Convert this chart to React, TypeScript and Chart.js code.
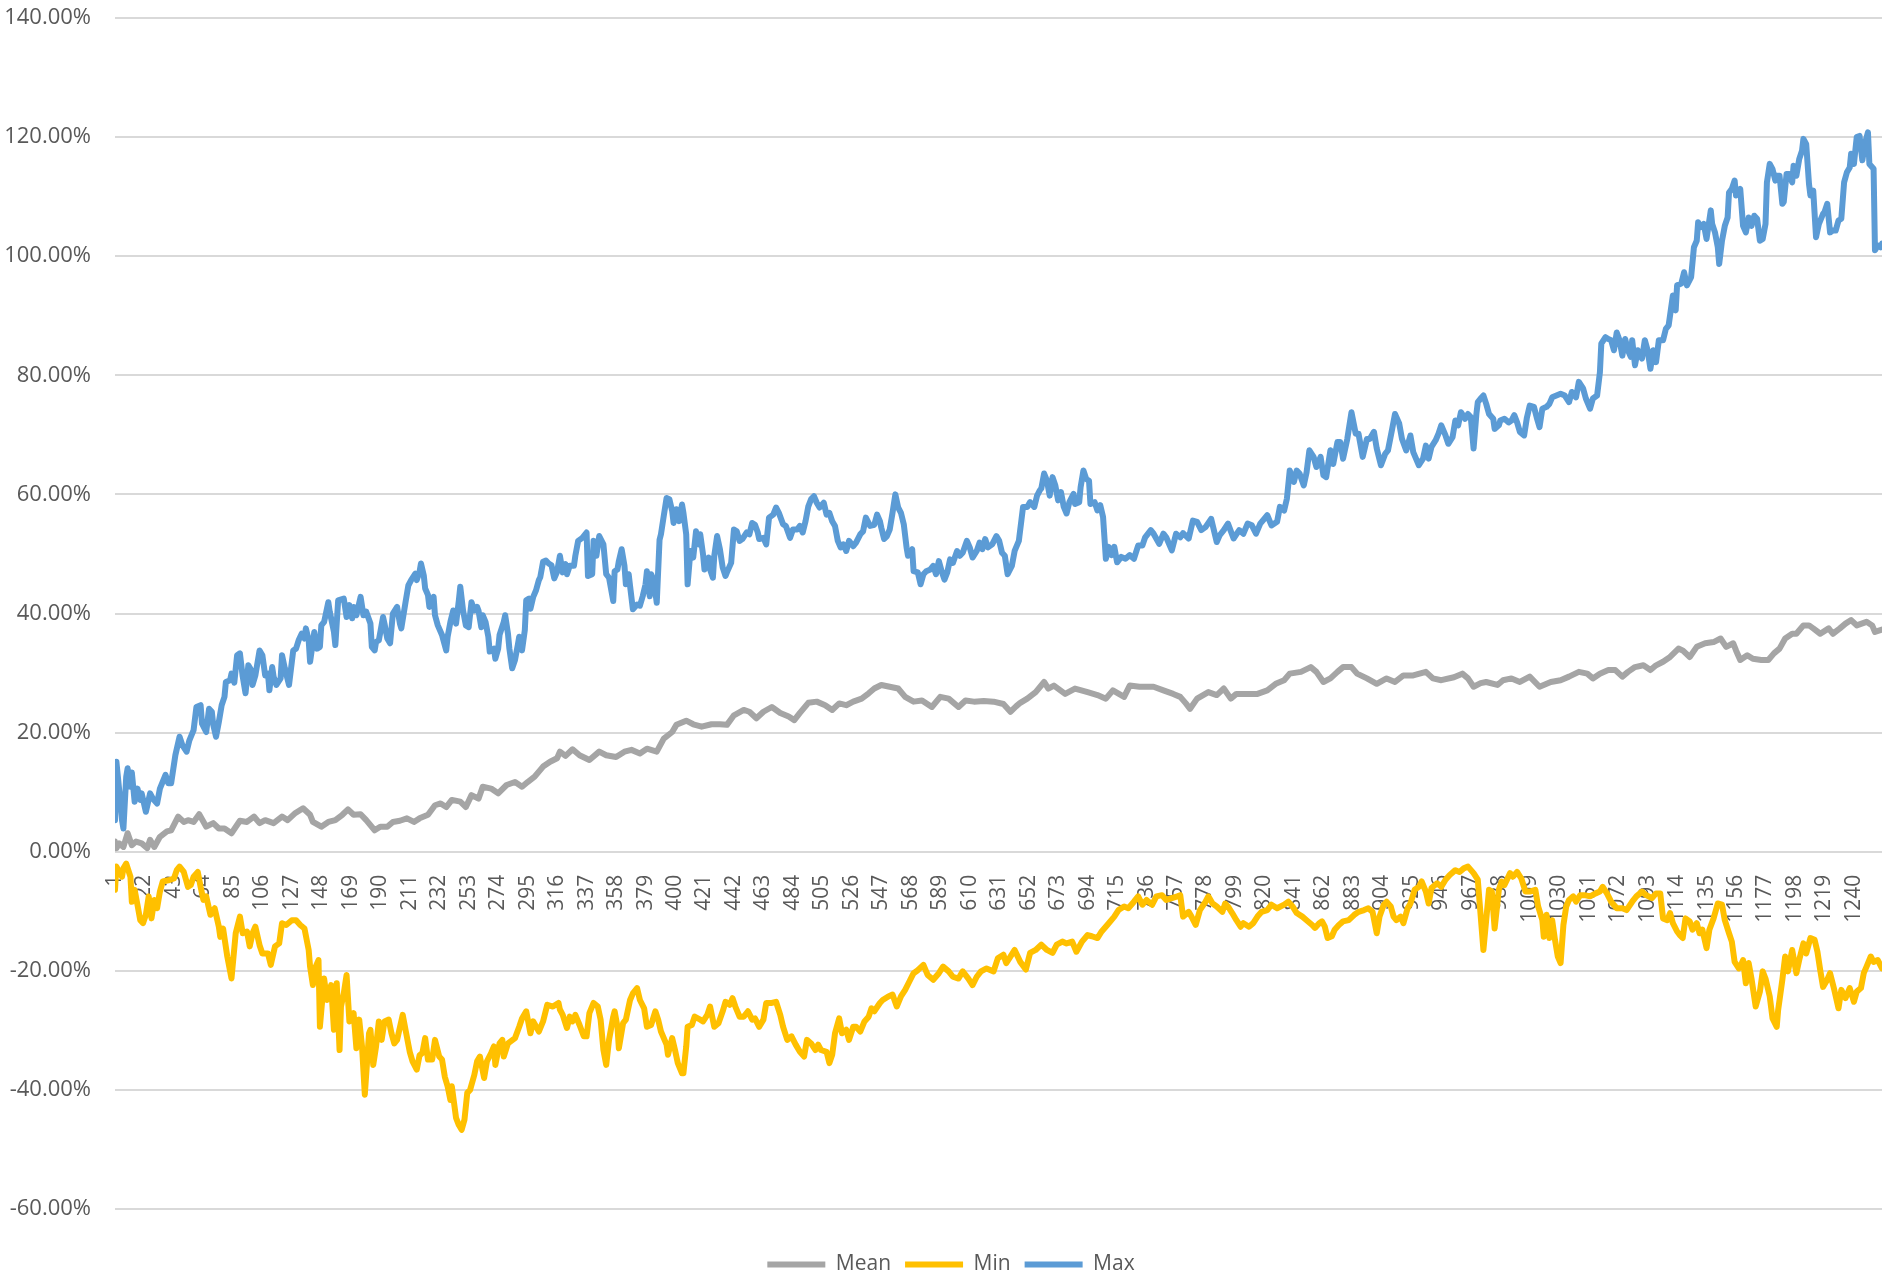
import React, { useEffect, useRef } from "react";
import { Chart, registerables } from "chart.js";

Chart.register(...registerables);

const seriesNames = ["Mean", "Min", "Max"];
const seriesColors = ["#A5A5A5", "#FFC000", "#5B9BD5"];

const xTickLabels = [1,22,43,64,85,106,127,148,169,190,211,232,253,274,295,316,337,358,379,400,421,442,463,484,505,526,547,568,589,610,631,652,673,694,715,736,757,778,799,820,841,862,883,904,925,946,967,988,1009,1030,1051,1072,1093,1114,1135,1156,1177,1198,1219,1240];
const yTickValues = [-60,-40,-20,0,20,40,60,80,100,120,140];

// [observation index, value in %]
const meanPoints: [number, number][] = [
[1,1.7],[2,0.6],[4,1.4],[7,0.8],[10,3.1],[13,1.1],[16,1.7],[20,1.4],[24,0.6],[26,2.0],[29,0.8],[33,2.5],[38,3.4],[41,3.6],[46,5.9],[50,5.0],[53,5.3],[57,5.0],[61,6.3],[66,4.2],[71,4.8],[75,3.9],[79,3.9],[84,3.1],[90,5.2],[95,5.0],[100,5.9],[104,4.8],[108,5.3],[114,4.8],[120,5.9],[124,5.3],[129,6.4],[135,7.3],[140,6.2],[142,5.0],[148,4.2],[153,5.0],[158,5.3],[163,6.2],[167,7.1],[171,6.2],[176,6.3],[180,5.3],[186,3.6],[190,4.2],[195,4.2],[199,5.0],[204,5.2],[209,5.6],[214,5.0],[218,5.6],[224,6.2],[229,7.8],[233,8.1],[237,7.5],[241,8.7],[247,8.4],[251,7.5],[255,9.5],[260,8.9],[263,10.9],[269,10.6],[274,9.8],[280,11.2],[286,11.7],[291,10.9],[295,11.7],[300,12.6],[306,14.3],[311,15.1],[316,15.7],[318,16.8],
[322,16.1],[327,17.2],[332,16.2],[339,15.4],[346,16.8],[351,16.2],[358,15.9],[364,16.8],[369,17.1],[375,16.5],[380,17.3],[387,16.8],[392,19.0],[398,20.1],[401,21.3],[408,22.0],[413,21.4],[419,21.0],[426,21.4],[432,21.4],[437,21.3],[442,22.9],[449,23.8],[453,23.5],[458,22.4],[463,23.5],[469,24.3],[475,23.3],[481,22.7],[485,22.1],[489,23.3],[495,25.0],[501,25.2],[507,24.6],[512,23.8],[517,24.9],[522,24.6],[527,25.2],[533,25.7],[538,26.6],[542,27.4],[547,28.0],[553,27.7],[559,27.4],[564,26.0],[570,25.2],[576,25.4],[583,24.3],[589,26.0],[595,25.7],[602,24.3],[607,25.4],[613,25.2],[620,25.3],[627,25.2],[634,24.8],[639,23.5],[643,24.4],[646,25.0],
[651,25.7],[657,26.8],[663,28.5],[666,27.4],[670,27.9],[678,26.5],[685,27.4],[694,26.8],[701,26.3],[707,25.7],[712,27.1],[720,26.0],[724,27.9],[731,27.7],[741,27.7],[748,27.1],[755,26.5],[760,26.0],[764,24.9],[767,24.0],[772,25.7],[780,26.8],[786,26.3],[791,27.4],[796,25.7],[800,26.5],[807,26.5],[815,26.5],[822,27.1],[828,28.2],[834,28.8],[838,29.9],[846,30.2],[853,31.0],[857,30.2],[862,28.5],[867,29.1],[872,30.2],[876,31.0],[882,31.0],[886,29.9],[893,29.1],[900,28.2],[907,29.1],[913,28.5],[919,29.6],[926,29.6],[935,30.2],[940,29.1],[946,28.8],[955,29.3],[961,29.9],[965,29.1],[969,27.7],[974,28.3],
[978,28.5],[986,28.0],[990,28.8],[996,29.1],[1002,28.5],[1009,29.4],[1016,27.7],[1024,28.5],[1031,28.8],[1037,29.4],[1044,30.2],[1050,29.9],[1054,29.1],[1059,29.9],[1065,30.5],[1070,30.5],[1075,29.4],[1079,30.2],[1084,31.0],[1090,31.3],[1095,30.5],[1099,31.3],[1104,31.9],[1109,32.7],[1115,34.1],[1118,33.8],[1123,32.7],[1128,34.4],[1134,35.0],[1140,35.2],[1145,35.8],[1149,34.4],[1154,35.0],[1156,33.8],[1159,32.2],[1164,33.0],[1168,32.4],[1174,32.2],[1179,32.2],[1183,33.3],[1187,34.1],[1191,35.8],[1196,36.6],[1199,36.6],[1204,38.0],[1208,38.0],[1211,37.5],[1216,36.6],[1222,37.5],[1225,36.6],[1230,37.5],[1234,38.3],[1238,38.9],[1242,38.0],[1249,38.6],[1253,38.0],[1255,36.9],[1260,37.3]
];

const minPoints: [number, number][] = [
[1,-6.4],[2,-2.5],[6,-4.2],[7,-2.8],[9,-2.0],[12,-4.2],[13,-8.4],[15,-6.4],[17,-8.9],[19,-11.5],[21,-12.0],[23,-10.6],[25,-7.5],[27,-11.2],[29,-8.1],[31,-9.5],[33,-6.7],[35,-5.0],[39,-4.8],[43,-4.5],[45,-3.1],[47,-2.5],[50,-3.4],[53,-5.9],[55,-5.6],[57,-4.2],[60,-3.4],[62,-5.9],[64,-8.1],[66,-7.5],[69,-10.6],[72,-9.5],[75,-12.6],[76,-14.3],[78,-12.9],[81,-17.6],[84,-21.3],[87,-13.7],[90,-10.9],[92,-13.7],[95,-13.4],[97,-15.9],[99,-13.7],[101,-12.6],[104,-15.7],[106,-17.1],[110,-17.1],[112,-19.0],[115,-15.9],[118,-15.4],[120,-12.0],[123,-12.3],[127,-11.5],[130,-11.5],[133,-12.3],[136,-12.9],[139,-16.5],[140,-19.3],[142,-22.4],[144,-19.3],[146,-18.2],[147,-29.4],[150,-21.3],[152,-24.9],[155,-22.4],[157,-29.9],[159,-22.1],[161,-33.3],[162,-26.0],[164,-23.8],[166,-20.7],[168,-28.5],[171,-27.1],[173,-33.0],[175,-28.2],[177,-32.7],[179,-40.8],[182,-30.5],[183,-29.9],[185,-35.8],[187,-32.7],[189,-28.5],[191,-31.6],[193,-28.5],[196,-28.2],[198,-30.5],[200,-32.2],[202,-31.6],[206,-27.4],[208,-29.9],[211,-33.6],[213,-35.2],[216,-36.6],[218,-34.2],[220,-33.8],[222,-31.3],[224,-34.9],[227,-34.9],[229,-31.6],[232,-34.4],[234,-34.9],[236,-37.8],[238,-39.4],[240,-41.7],[241,-39.4],[244,-44.7],[246,-45.9],[248,-46.7],[250,-45.0],[252,-40.5],[254,-40.0],[257,-37.5],[259,-35.2],[261,-34.4],[264,-38.0],[266,-35.2],[269,-33.8],[271,-32.7],[272,-35.8],[275,-32.2],[277,-31.6],[278,-34.4],[281,-32.2],[286,-31.3],[289,-29.4],[291,-28.0],[294,-26.8],[297,-30.5],[299,-28.5],[303,-30.2],[306,-28.5],[309,-25.7],[313,-26.0],[317,-25.4],[318,-26.5],
[320,-27.4],[323,-29.6],[325,-27.7],[327,-28.5],[329,-27.4],[332,-29.1],[335,-31.0],[337,-31.0],[339,-27.1],[342,-25.4],[345,-26.0],[347,-28.2],[349,-33.3],[351,-35.8],[353,-31.6],[356,-27.7],[357,-26.8],[359,-29.4],[360,-33.0],[363,-28.8],[365,-28.2],[368,-24.9],[370,-23.8],[373,-22.9],[375,-24.9],[378,-26.3],[380,-29.4],[383,-29.1],[386,-26.8],[388,-28.2],[390,-30.2],[394,-32.4],[395,-34.1],[398,-31.3],[400,-33.3],[402,-35.5],[405,-37.2],[406,-37.2],[408,-32.7],[409,-29.4],[412,-29.1],[414,-27.7],[418,-28.2],[420,-28.5],[423,-27.4],[425,-26.0],[428,-29.4],[431,-28.8],[434,-26.8],[436,-25.2],[439,-25.7],[441,-24.6],[443,-26.0],[446,-27.7],[449,-27.7],[452,-26.8],[455,-28.2],[457,-28.0],[460,-29.4],[463,-28.2],[465,-25.4],[469,-25.4],[472,-25.2],[475,-27.4],[477,-29.4],[480,-31.6],[483,-31.0],[486,-32.4],[489,-33.6],[492,-34.4],[494,-31.6],[497,-32.2],[500,-33.3],[502,-32.4],[504,-33.3],[508,-33.6],[510,-35.5],[512,-34.1],[514,-30.5],[517,-28.0],[519,-30.5],[522,-29.9],[524,-31.6],[527,-29.4],[529,-29.4],[532,-30.2],[535,-28.5],[538,-27.7],[540,-26.3],[542,-26.8],[546,-25.4],[548,-24.9],[552,-24.3],[555,-24.0],[558,-26.0],[561,-24.3],[564,-23.2],[567,-21.8],[570,-20.4],[573,-19.9],[577,-19.0],[580,-20.7],[584,-21.5],[588,-20.4],[591,-19.3],[595,-20.1],[598,-21.0],[602,-21.3],[605,-20.1],[609,-21.3],[612,-22.4],[615,-21.0],[618,-20.1],[622,-19.6],[627,-20.1],[630,-17.9],[634,-17.3],[636,-18.7],[639,-17.6],[642,-16.5],[646,-18.5],
[650,-19.8],[653,-17.0],[657,-16.5],[661,-15.6],[665,-16.5],[669,-17.0],[672,-15.6],[676,-15.1],[679,-15.4],[683,-15.1],[686,-16.8],[690,-15.1],[694,-14.0],[697,-14.2],[701,-14.5],[704,-13.4],[708,-12.3],[713,-10.9],[716,-9.8],[720,-9.2],[723,-9.5],[727,-8.4],[730,-7.5],[733,-8.9],[736,-8.1],[740,-8.9],[743,-7.5],[747,-7.3],[750,-8.1],[754,-7.8],[758,-7.5],[760,-7.3],[762,-10.9],[766,-10.1],[768,-10.9],[771,-12.3],[774,-9.8],[778,-8.4],[780,-7.5],[783,-8.7],[786,-9.2],[790,-10.1],[792,-8.7],[794,-9.2],[797,-10.3],[800,-11.5],[803,-12.6],[805,-12.0],[809,-12.6],[812,-12.0],[815,-10.9],[818,-10.1],[822,-9.8],[825,-8.9],[829,-9.5],[834,-8.9],[837,-8.4],[840,-9.2],[843,-10.3],[847,-10.9],[850,-11.5],[854,-12.3],[856,-12.8],[859,-12.0],[861,-11.7],[863,-12.6],[865,-14.5],[868,-14.2],[870,-13.1],[873,-12.3],[876,-11.7],[880,-11.5],[884,-10.6],[887,-10.1],[891,-9.8],[894,-9.5],[897,-10.1],[900,-13.7],[902,-10.9],[905,-8.9],[907,-8.4],[910,-9.2],[912,-10.9],[914,-11.5],[917,-10.9],[919,-12.0],[922,-9.5],[924,-8.7],[927,-6.4],[930,-5.9],[932,-5.0],[935,-6.7],[937,-8.7],[939,-6.1],[943,-5.3],[946,-5.9],[949,-4.7],[952,-3.9],[956,-3.1],[959,-3.4],[962,-2.8],[965,-2.5],[969,-3.6],[972,-4.7],
[976,-16.5],[980,-6.4],[982,-6.7],[984,-12.9],[987,-6.4],[989,-5.0],[991,-5.6],[995,-3.6],[997,-4.2],[1000,-3.4],[1003,-4.5],[1006,-6.7],[1009,-6.7],[1013,-6.4],[1015,-9.2],[1018,-11.5],[1019,-14.3],[1021,-10.6],[1023,-14.5],[1025,-11.5],[1027,-14.8],[1029,-17.6],[1031,-18.7],[1033,-12.3],[1035,-9.2],[1037,-8.1],[1040,-7.5],[1042,-8.4],[1045,-7.3],[1048,-7.3],[1052,-7.5],[1056,-7.0],[1059,-6.7],[1061,-5.9],[1064,-7.0],[1067,-8.4],[1071,-9.5],[1075,-9.5],[1078,-9.8],[1082,-8.4],[1085,-7.5],[1089,-6.7],[1092,-7.3],[1096,-7.8],[1099,-7.0],[1102,-7.0],[1104,-11.2],[1107,-11.5],[1109,-10.3],[1111,-12.0],[1114,-13.4],[1116,-14.0],[1118,-14.5],[1120,-11.2],[1123,-11.7],[1125,-13.1],[1128,-12.0],[1130,-13.7],[1132,-13.1],[1135,-16.2],[1137,-13.1],[1140,-11.2],[1143,-8.7],[1146,-8.9],[1148,-11.5],[1151,-13.7],[1153,-15.1],[1155,-18.5],[1158,-19.6],[1159,-19.3],[1161,-18.2],[1163,-22.1],[1165,-18.7],[1167,-21.3],[1170,-26.0],[1173,-23.5],[1175,-20.1],[1177,-21.3],[1180,-24.3],[1182,-28.0],[1185,-29.4],[1186,-26.6],[1189,-21.5],[1191,-17.6],[1193,-20.1],[1196,-16.5],[1199,-20.4],[1201,-18.2],[1204,-15.4],[1206,-17.1],[1209,-14.5],[1212,-14.8],[1214,-16.8],[1216,-19.9],[1218,-22.7],[1221,-21.5],[1223,-20.4],[1226,-23.2],[1229,-26.3],[1231,-23.2],[1234,-24.6],[1237,-22.9],[1240,-25.2],[1242,-23.5],[1245,-22.9],[1247,-20.4],[1249,-19.3],[1252,-17.6],[1254,-18.5],[1257,-18.2],[1260,-19.6]
];

const maxPoints: [number, number][] = [
[1,5.3],[2,15.1],[4,10.3],[6,5.3],[7,3.9],[9,12.6],[10,14.0],[12,10.9],[13,13.3],[15,8.4],[17,10.6],[19,8.7],[20,9.8],[23,6.7],[26,9.8],[28,8.9],[31,8.1],[33,10.6],[37,12.9],[39,11.5],[41,11.5],[44,16.2],[47,19.3],[49,17.9],[52,16.8],[54,18.7],[57,20.4],[59,24.3],[62,24.6],[63,21.5],[66,20.1],[68,24.0],[70,23.5],[71,21.3],[73,19.3],[75,21.8],[77,24.6],[79,26.0],[80,28.5],[83,28.8],[84,29.9],[86,28.4],[88,33.0],[90,33.3],[92,29.4],[94,26.6],[96,31.3],[98,30.5],[99,28.0],[101,29.6],[104,33.8],[106,33.0],[108,29.6],[110,29.9],[111,27.1],[113,31.0],[114,29.4],[116,28.0],[119,29.1],[120,33.0],[122,30.8],[125,28.0],[128,33.8],[130,34.1],[132,35.6],[134,36.6],[136,35.8],[137,37.5],[139,35.5],[140,31.9],[142,35.2],[143,36.9],[145,34.1],[147,34.4],[148,38.0],[150,38.6],[151,39.7],[153,41.9],[154,40.3],[157,36.9],[158,34.7],[160,42.2],[164,42.5],[166,39.4],[168,41.4],[170,39.2],[171,41.1],[173,39.7],[176,42.8],[178,39.7],[180,40.3],[183,38.3],[184,34.4],[186,33.8],[187,35.2],[189,35.5],[192,39.4],[193,38.3],[195,35.8],[197,35.0],[199,40.0],[202,41.1],[204,38.3],[205,37.5],[208,41.9],[210,44.7],[212,45.6],[215,46.7],[216,45.6],[218,47.0],[219,48.4],[221,46.4],[222,44.2],[224,43.1],[225,41.1],[228,42.8],[229,39.7],[231,38.0],[234,36.4],[235,35.5],[237,33.8],[238,36.1],[240,38.6],[242,40.5],[244,38.3],[246,42.2],[247,44.5],[249,40.5],[251,38.0],[253,37.7],[255,41.9],[257,40.5],[259,41.1],[260,40.5],[262,37.7],[263,39.7],[265,38.6],[267,36.1],[268,33.6],[271,34.1],[272,32.4],[274,34.1],[275,36.4],[278,38.6],[279,39.7],[281,36.6],[282,34.1],[284,30.8],[286,32.2],[288,34.7],[289,36.1],[291,33.8],[293,37.2],[294,42.2],[296,42.5],[297,40.8],[299,42.8],[301,43.9],[303,45.6],[304,46.1],[306,48.7],[308,48.9],[310,48.4],[312,48.1],[314,45.9],[316,47.0],[318,49.7],
[320,46.9],[322,48.3],[323,46.6],[325,48.0],[328,48.0],[329,49.7],[331,52.2],[334,52.7],[337,53.6],[338,46.3],[341,46.6],[342,52.2],[344,49.7],[346,53.0],[349,51.6],[351,46.6],[353,46.0],[356,42.1],[357,47.1],[359,47.4],[360,48.8],[362,50.8],[364,48.0],[365,44.9],[367,46.6],[368,44.6],[370,40.7],[373,41.5],[375,41.3],[377,42.9],[379,44.9],[380,47.1],[382,42.9],[383,46.6],[385,45.5],[387,41.8],[389,52.4],[390,53.3],[392,56.4],[394,59.4],[396,59.2],[398,57.2],[399,55.2],[401,57.5],[403,55.5],[405,58.3],[406,56.9],[408,53.3],[409,44.9],[411,50.5],[413,49.4],[415,53.8],[417,51.6],[418,53.3],[420,49.9],[421,47.4],[424,49.4],[425,47.4],[427,46.0],[428,49.7],[430,53.0],[432,50.8],[434,47.7],[436,46.3],[437,46.9],[440,48.5],[442,54.1],[444,53.8],[446,52.2],[448,52.5],[451,53.6],[453,53.3],[455,55.2],[457,54.9],[459,53.6],[460,52.5],[463,52.7],[465,51.6],[467,56.1],[470,56.6],[472,57.8],[474,56.9],[477,55.0],[479,54.7],[482,52.7],[484,54.1],[487,54.1],[489,54.7],[491,53.6],[493,55.5],[495,58.0],[497,59.2],[499,59.7],[501,58.6],[503,57.8],[506,58.6],[508,56.6],[510,56.9],[512,55.5],[514,54.7],[516,52.2],[518,51.1],[520,51.6],[522,50.5],[524,52.2],[527,51.3],[529,51.9],[532,53.3],[534,53.8],[536,56.1],[539,54.7],[542,54.9],[544,56.6],[546,55.5],[547,54.4],[549,52.5],[551,53.0],[553,54.1],[555,56.9],[557,60.0],[559,57.8],[561,56.9],[563,55.0],[565,51.1],[566,49.7],[569,50.8],[570,47.1],[573,46.9],[575,44.9],[577,46.6],[579,47.1],[582,47.4],[584,48.0],[586,46.6],[588,48.8],[590,47.1],[592,45.7],[594,46.9],[596,49.1],[598,48.5],[601,50.5],[603,49.7],[605,50.2],[608,52.2],[610,51.1],[612,49.4],[615,50.5],[617,51.9],[619,50.8],[621,52.5],[623,51.1],[626,51.6],[629,53.0],[631,52.2],[633,50.2],[635,49.7],[637,46.6],[640,48.0],[642,50.5],[645,52.2],
[648,57.9],[651,57.9],[653,58.7],[656,57.9],[658,59.8],[660,60.7],[661,61.0],[663,63.5],[665,62.3],[667,59.8],[669,62.9],[671,61.5],[673,59.0],[675,60.4],[677,57.9],[679,56.8],[681,58.7],[684,60.1],[685,58.4],[688,58.7],[689,61.2],[691,64.0],[693,62.6],[695,62.3],[696,58.4],[699,58.7],[701,57.3],[703,58.2],[705,56.2],[707,49.2],[709,51.2],[711,49.8],[713,51.2],[715,48.6],[718,49.5],[721,49.2],[724,49.8],[727,49.2],[730,51.4],[733,51.4],[735,52.8],[739,54.0],[741,53.4],[745,51.7],[748,53.4],[750,52.8],[754,50.6],[757,53.4],[760,52.8],[762,53.5],[766,52.6],[769,55.6],[772,55.4],[775,54.0],[778,54.5],[782,55.9],[786,52.0],[788,53.1],[791,54.0],[794,55.1],[798,52.6],[802,54.0],[805,53.4],[808,55.1],[811,54.8],[814,53.4],[817,55.1],[822,56.5],[825,54.8],[829,55.4],[831,57.9],[834,57.3],[836,59.3],[838,64.0],[841,62.1],[843,64.0],[845,63.5],[848,61.5],[850,63.7],[852,67.4],[855,66.3],[857,64.6],[860,66.3],[862,63.2],[864,62.9],[867,67.4],[869,65.1],[872,68.8],[874,68.8],[876,66.0],[879,69.3],[882,73.8],[885,70.2],[887,70.2],[890,66.3],[893,69.3],[895,69.3],[898,70.5],[900,67.7],[903,64.9],[906,66.8],[908,67.4],[911,71.0],[913,73.5],[916,71.9],[918,69.3],[921,67.4],[924,69.9],[926,67.1],[930,64.9],[933,66.0],[935,68.2],[937,66.0],[939,68.0],[942,69.1],[944,70.2],[946,71.6],[949,69.9],[951,68.5],[954,69.6],[956,72.4],[958,71.6],[960,73.8],[963,72.7],[965,73.5],[967,73.0],[969,67.7],[971,73.5],[972,75.5],[974,76.1],
[976,76.6],[978,75.2],[980,73.5],[983,72.7],[984,71.0],[987,71.6],[988,72.4],[991,72.7],[994,72.1],[996,72.4],[998,73.3],[1000,72.1],[1002,70.5],[1005,69.9],[1007,72.9],[1009,74.9],[1012,74.7],[1014,72.9],[1016,71.3],[1018,74.4],[1021,74.7],[1023,75.2],[1025,76.3],[1028,76.6],[1031,76.9],[1034,76.6],[1037,75.5],[1039,77.2],[1042,76.3],[1044,78.9],[1047,77.8],[1049,76.1],[1052,74.4],[1054,76.1],[1057,76.6],[1059,80.5],[1060,85.3],[1063,86.4],[1065,86.1],[1067,85.9],[1069,84.2],[1071,87.2],[1073,85.9],[1075,83.3],[1077,86.1],[1079,84.2],[1081,83.1],[1082,85.9],[1084,81.7],[1086,84.2],[1089,82.8],[1091,85.9],[1093,84.2],[1095,81.1],[1097,84.2],[1099,82.2],[1101,85.9],[1104,85.9],[1106,87.8],[1108,88.4],[1111,93.4],[1113,90.9],[1114,95.1],[1117,95.4],[1119,97.3],[1121,95.1],[1124,96.5],[1126,101.5],[1128,102.6],[1129,105.7],[1131,104.9],[1133,105.4],[1135,102.9],[1138,107.7],[1139,105.4],[1141,104.0],[1143,101.5],[1144,98.7],[1146,102.6],[1148,105.1],[1150,106.5],[1151,110.7],[1153,111.3],[1155,112.7],[1156,110.2],[1159,111.3],[1161,105.1],[1163,104.0],[1165,106.5],[1167,105.1],[1169,106.8],[1171,106.3],[1173,102.6],[1175,102.9],[1177,105.4],[1178,112.4],[1180,115.5],[1182,114.6],[1184,112.7],[1185,113.5],[1187,113.5],[1189,108.8],[1190,109.1],[1192,113.8],[1194,113.8],[1196,112.4],[1197,115.2],[1199,113.5],[1201,116.3],[1203,117.7],[1204,119.7],[1206,118.8],[1208,112.1],[1209,110.2],[1211,111.0],[1213,103.2],[1215,105.4],[1218,107.1],[1219,107.4],[1221,108.8],[1223,104.0],[1225,104.3],[1227,104.3],[1229,106.0],[1231,106.3],[1233,112.4],[1235,114.1],[1237,114.9],[1238,117.2],[1240,115.5],[1242,120.0],[1244,120.2],[1246,116.1],[1248,119.1],[1250,120.8],[1251,115.5],[1254,114.7],[1255,101.0],[1257,101.8],[1259,101.5],[1260,102.1]
];

const allSeries = [meanPoints, minPoints, maxPoints];
const FONT = "'Open Sans', 'Noto Sans', sans-serif";
const TEXT_COLOR = "#595959";

export default function App() {
  const canvasRef = useRef<HTMLCanvasElement | null>(null);

  useEffect(() => {
    const canvas = canvasRef.current;
    if (!canvas) return;
    const chart = new Chart(canvas, {
      type: "line",
      data: {
        datasets: allSeries.map((pts, i) => ({
          label: seriesNames[i],
          data: pts.map(([x, y]) => ({ x, y })),
          xAxisID: "x",
          yAxisID: "y",
          borderColor: seriesColors[i],
          backgroundColor: seriesColors[i],
          borderWidth: 6,
          pointRadius: 0,
          pointHoverRadius: 0,
          tension: 0,
          borderJoinStyle: "round" as const,
          borderCapStyle: "round" as const,
          fill: false,
        })),
      },
      options: {
        animation: false,
        responsive: false,
        devicePixelRatio: 1,
        layout: { padding: { top: 18, left: 0, right: 0, bottom: -3 } },
        plugins: {
          tooltip: { enabled: false },
          legend: {
            position: "bottom",
            labels: {
              usePointStyle: true,
              pointStyle: "line",
              pointStyleWidth: 58,
              padding: 14,
              color: TEXT_COLOR,
              font: { family: FONT, size: 21 },
            },
          },
        },
        scales: {
          x: {
            type: "linear",
            min: 1,
            max: 1260,
            position: { y: 0 } as any,
            grid: { display: false },
            border: { display: false },
            afterBuildTicks: (scale: any) => {
              scale.ticks = xTickLabels.map((v) => ({ value: v }));
            },
            afterFit: (scale: any) => {
              scale.height = 0;
              scale.paddingLeft = 0;
              scale.paddingRight = 20;
            },
            ticks: {
              autoSkip: false,
              minRotation: 90,
              maxRotation: 90,
              padding: 15,
              color: TEXT_COLOR,
              font: { family: FONT, size: 21 },
              callback: (v: any) => String(v),
            },
          },
          spacer: {
            type: "linear",
            position: "bottom",
            axis: "x",
            min: 0,
            max: 1,
            grid: { display: false },
            border: { display: false },
            ticks: { display: false },
            afterFit: (scale: any) => {
              scale.height = 31;
              scale.paddingLeft = 0;
              scale.paddingRight = 0;
            },
          },
          y: {
            type: "linear",
            min: -60,
            max: 140,
            afterBuildTicks: (scale: any) => {
              scale.ticks = yTickValues.map((v) => ({ value: v }));
            },
            afterFit: (scale: any) => {
              scale.width = 115;
              scale.paddingTop = 0;
              scale.paddingBottom = 0;
            },
            grid: { color: "#d9d9d9", lineWidth: 2, drawTicks: false },
            border: { display: false },
            ticks: {
              padding: 24,
              color: TEXT_COLOR,
              font: { family: FONT, size: 22 },
              callback: (v: any) => Number(v).toFixed(2) + "%",
            },
          },
        },
      },
    });
    return () => chart.destroy();
  }, []);

  return (
    <div style={{ position: "fixed", left: 0, top: 0, width: 1902, height: 1282, background: "#fff" }}>
      <canvas ref={canvasRef} width={1902} height={1282} style={{ width: 1902, height: 1282, display: "block" }} />
    </div>
  );
}
